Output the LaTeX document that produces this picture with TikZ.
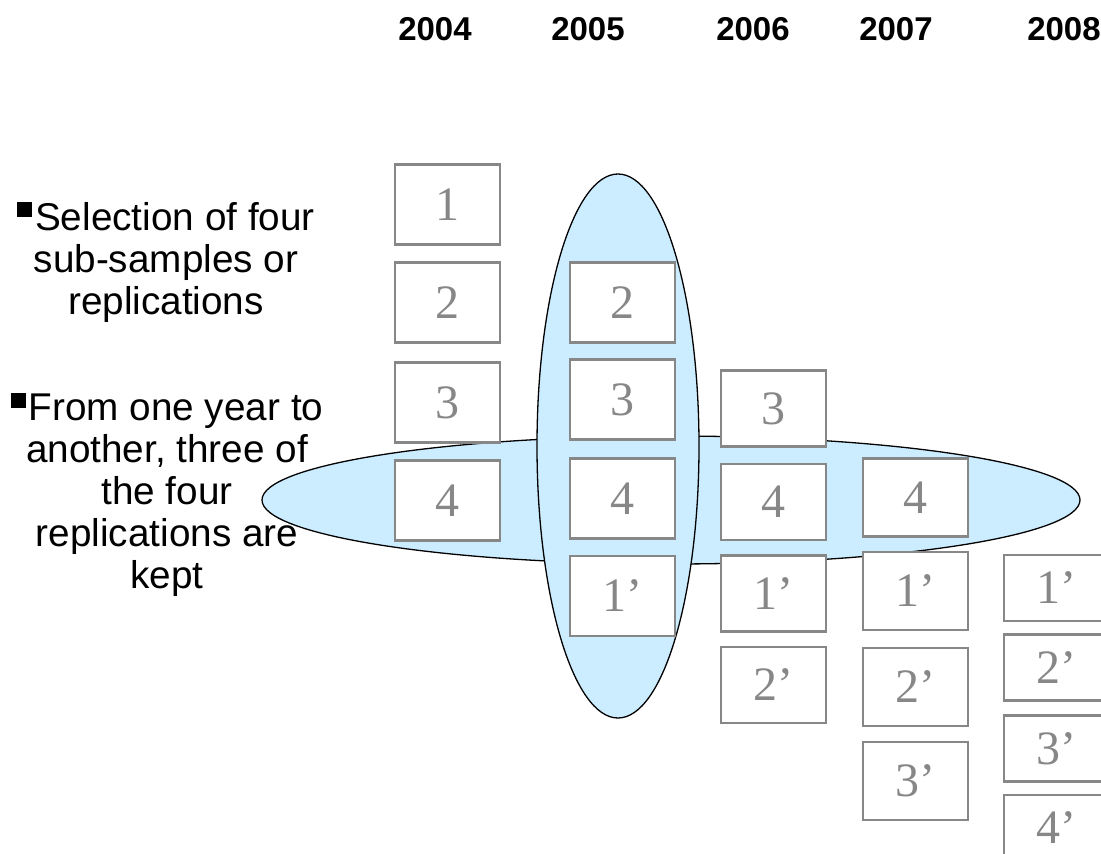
\documentclass[tikz,border=0pt]{standalone}
\usepackage{fontspec}
\setmainfont{Liberation Serif}
\setsansfont{Liberation Sans}
\usetikzlibrary{positioning}
\definecolor{repblue}{HTML}{CCECFF}
\definecolor{repgray}{HTML}{878787}
\tikzset{
  rep/.style={draw=repgray,line width=2.6pt,fill=white,minimum width=105pt,minimum height=80pt,
    inner sep=0pt,text=repgray,font=\fontsize{48}{48}\selectfont},
  year/.style={font=\sffamily\bfseries\fontsize{33}{33}\selectfont},
  note/.style={align=center,font=\sffamily\fontsize{38.7}{42}\selectfont}
}
\newcommand{\sqbullet}{\rule[13pt]{15pt}{15pt}\kern3pt}
\begin{document}
\begin{tikzpicture}[x=1pt,y=-1pt]
\useasboundingbox (0,0) rectangle (1101,854);
% years
\foreach \yr/\x in {2004/435,2005/588,2006/753,2007/896,2008/1064}
  \node[year] (y\yr) at (\x,29) {\yr};
% the two groups
\draw[fill=repblue,line width=1.3pt] (671,500) ellipse [x radius=409, y radius=64];
\draw[fill=repblue,line width=1.3pt] (618,446) ellipse [x radius=81, y radius=272];
% replications per year
\foreach \lab/\y [count=\i] in {1/204.5,2/302.5,3/402.5,4/500.5}
  \node[rep] (r04-\i) at (447.5,\y) {\lab};
\foreach \lab/\y [count=\i] in {2/302.5,3/399.5,4/498.5,1’/596}
  \node[rep] (r05-\i) at (622.5,\y) {\lab};
\foreach \lab/\y [count=\i] in {3/408.5,4/502,1’/593.5,2’/685}
  \node[rep,minimum height=76pt] (r06-\i) at (773.5,\y) {\lab};
\foreach \lab/\y [count=\i] in {4/497.5,1’/591,2’/687,3’/781}
  \node[rep,minimum height=78pt] (r07-\i) at (915.5,\y) {\lab};
\foreach \lab/\y [count=\i] in {1’/588,2’/667.5,3’/748.5,4’/828}
  \node[rep,minimum height=66pt] (r08-\i) at (1056.5,\y) {\lab};
% comments on the left
\node[note] (sel) at (166,262) {\sqbullet Selection of four\\sub-samples or\\replications};
\node[note] (kept) at (167,495) {\sqbullet From one year to\\another, three of\\the four\\replications are\\kept};
\end{tikzpicture}
\end{document}
